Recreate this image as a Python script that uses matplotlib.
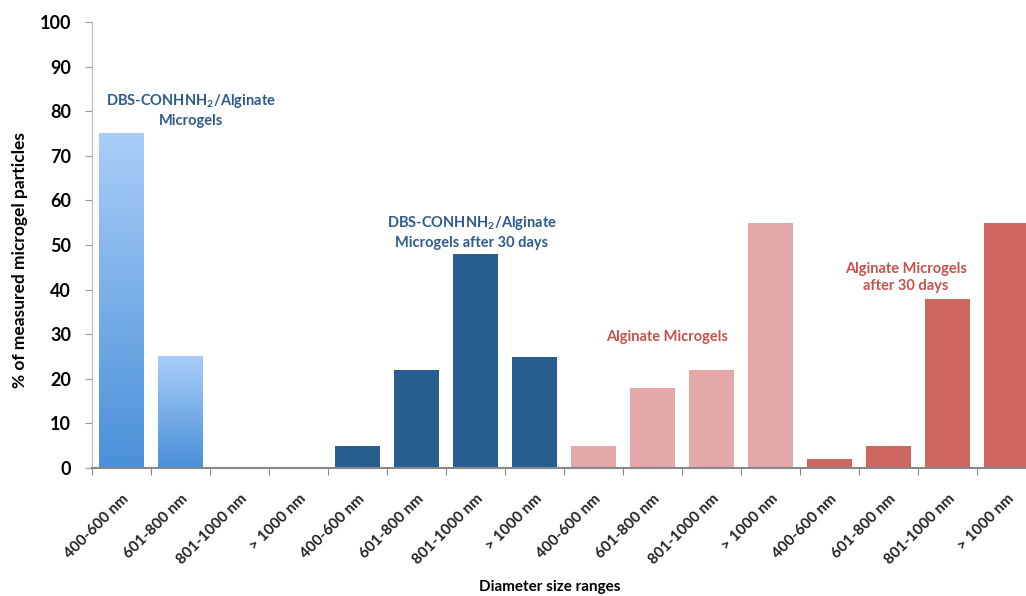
import numpy as np
import matplotlib.pyplot as plt
import matplotlib.transforms as mtransforms
from matplotlib.colors import LinearSegmentedColormap

plt.rcParams['font.family'] = ['Lato', 'DejaVu Sans']
plt.rcParams['mathtext.fontset'] = 'custom'
plt.rcParams['mathtext.rm'] = 'Lato'
plt.rcParams['mathtext.bf'] = 'Lato:bold'

# Datos
rangos = ["400-600 nm", "601-800 nm", "801-1000 nm", "> 1000 nm"]
etiquetas = rangos * 4
dbs = [75, 25, 0, 0]
dbs_30 = [5, 22, 48, 25]
alg = [5, 18, 22, 55]
alg_30 = [2, 5, 38, 55]
valores = dbs + dbs_30 + alg + alg_30
colores = [None] * 4 + ["#285d8f"] * 4 + ["#e3a8a7"] * 4 + ["#cd6560"] * 4

fig = plt.figure(figsize=(10.26, 5.96), dpi=100)
ax = fig.add_axes([0.0897, 0.2148, 0.92, 0.748])

x = np.arange(len(valores))
ancho = 0.76

# Barras con degradado para el primer grupo
grad = LinearSegmentedColormap.from_list("azul", ["#4a90d9", "#a8cdf8"])
for i, v in enumerate(valores):
    if colores[i] is None:
        if v > 0:
            img = np.linspace(0, 1, 100).reshape(-1, 1)
            ax.imshow(img, cmap=grad, origin="lower", aspect="auto",
                      extent=(x[i] - ancho / 2, x[i] + ancho / 2, 0, v), zorder=2)
    else:
        ax.bar(x[i], v, width=ancho, color=colores[i], zorder=2)
ax.set_xlim(-0.5, len(valores) - 0.5)
ax.set_ylim(0, 100)

# Ejes
ax.set_yticks(range(0, 101, 10))
ax.set_xticks(np.arange(len(valores) + 1) - 0.5, minor=False)
ax.set_xticklabels([])
ax.set_xticks(x, minor=True)
ax.set_xticklabels(etiquetas, minor=True, rotation=45, ha="right", va="top",
                   rotation_mode="anchor", fontsize=11, fontweight="bold", color="#222222")
desplaza = mtransforms.ScaledTranslation(7 / 100, 0, fig.dpi_scale_trans)
for t in ax.get_xticklabels(minor=True):
    t.set_transform(t.get_transform() + desplaza)
ax.tick_params(axis="x", which="minor", length=0, pad=17)
ax.tick_params(axis="x", which="major", length=5, color="#888888", direction="out")
ax.tick_params(axis="y", length=5, color="#999999", labelsize=13, pad=10)
for t in ax.get_yticklabels():
    t.set_fontweight("bold")
for s in ["top", "right"]:
    ax.spines[s].set_visible(False)
ax.spines["left"].set_color("#bbbbbb")
ax.spines["bottom"].set_color("#888888")
ax.spines["bottom"].set_linewidth(1.5)

ax.set_ylabel("% of measured microgel particles", fontsize=12.5, fontweight="bold")
ax.yaxis.set_label_coords(-0.068, 0.466)
fig.text(0.536, 0.003, "Diameter size ranges", fontsize=11, fontweight="bold",
         ha="center", va="bottom")

# Anotaciones
azul_txt = "#2f5b8c"
rojo_txt = "#c9504c"
ax.text(1.18, 80.3, "DBS-CONHNH$_\\mathbf{2}$/Alginate\nMicrogels", color=azul_txt,
        fontsize=10.5, fontweight="bold", ha="center", va="center", linespacing=1.3)
ax.text(5.94, 52.9, "DBS-CONHNH$_\\mathbf{2}$/Alginate\nMicrogels after 30 days", color=azul_txt,
        fontsize=10.5, fontweight="bold", ha="center", va="center", linespacing=1.3)
ax.text(9.25, 29.4, "Alginate Microgels", color=rojo_txt,
        fontsize=10.5, fontweight="bold", ha="center", va="center")
ax.text(13.3, 42.8, "Alginate Microgels\nafter 30 days", color=rojo_txt,
        fontsize=10.5, fontweight="bold", ha="center", va="center", linespacing=1.3)

fig.savefig("out.png", dpi=100)
